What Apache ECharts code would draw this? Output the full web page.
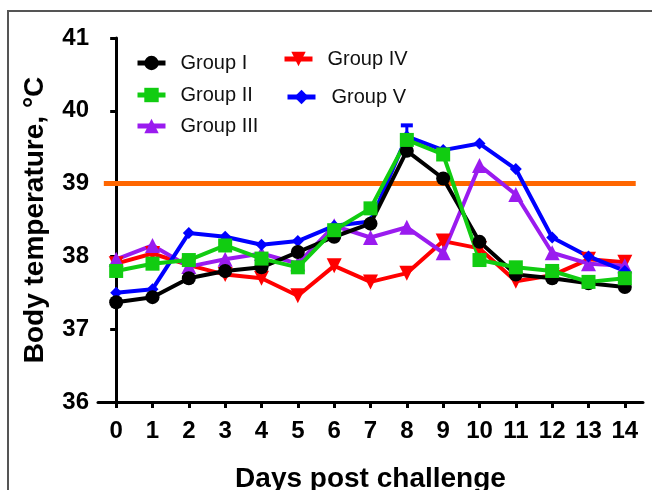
<!DOCTYPE html>
<html>
<head>
<meta charset="utf-8">
<script src="https://cdn.jsdelivr.net/npm/echarts@6/dist/echarts.min.js"></script>
<style>html,body{margin:0;padding:0;background:#fff;}#c{width:652px;height:490px;}</style>
</head>
<body>
<div id="c"></div>
<script>
var days = [0,1,2,3,4,5,6,7,8,9,10,11,12,13,14];
var groupI   = [37.37,37.44,37.70,37.80,37.85,38.06,38.27,38.45,39.45,39.07,38.20,37.75,37.70,37.63,37.58];
var groupII  = [37.80,37.90,37.95,38.15,37.97,37.85,38.36,38.66,39.60,39.40,37.95,37.85,37.80,37.65,37.70];
var groupIII = [37.96,38.15,37.86,37.96,38.04,37.90,38.42,38.26,38.40,38.05,39.25,38.85,38.05,37.90,37.87];
var groupIV  = [37.90,38.04,37.88,37.75,37.70,37.46,37.87,37.65,37.77,38.21,38.11,37.66,37.74,37.96,37.92];
var groupV   = [37.50,37.55,38.32,38.27,38.16,38.21,38.42,38.48,39.65,39.46,39.55,39.20,38.26,38.00,37.80];
var blueErrorBars = [[8, 39.65, 39.80]];
var thresholdX = [-0.34, 14.3];
var thresholdValue = 39;
var yTicks = [36,37,38,39,40,41];

function pairs(vals){ return days.map(function(d,i){ return [d, vals[i]]; }); }

var FONT = '"Liberation Sans", Arial, sans-serif';
var chart = echarts.init(document.getElementById('c'), null, {renderer:'canvas'});

function legendAt(name, left, top, gap){
  return {
    data:[name], left:left, top:top, orient:'horizontal', padding:0,
    itemWidth:28, itemHeight:18, selectedMode:false,
    lineStyle:{width:5},
    textStyle:{fontFamily:FONT, fontSize:20, color:'#111', padding:[0,0,0,gap]}
  };
}

function lineSeries(name, vals, color, symbol, size, rotate){
  return {
    name:name, type:'line', data:pairs(vals),
    symbol:symbol, symbolSize:size, symbolRotate:rotate||0,
    lineStyle:{color:color, width:4}, itemStyle:{color:color},
    emphasis:{disabled:true}, animation:false
  };
}

var option = {
  animation:false,
  graphic:[{type:'rect', shape:{x:8, y:11, width:700, height:600}, style:{fill:'none', stroke:'#555', lineWidth:2}}],
  legend:[
    legendAt('Group I', 135, 53, 10),
    legendAt('Group II', 135, 85, 10),
    legendAt('Group III', 135, 116, 10),
    legendAt('Group IV', 282, 49, 10),
    legendAt('Group V', 285, 87, 11)
  ],
  grid:{left:98, right:9, top:38, bottom:88, containLabel:false, outerBoundsMode:'none'},
  xAxis:{
    type:'value', min:-0.5, max:14.5,
    name:'Days post challenge', nameLocation:'middle', nameGap:63,
    nameTextStyle:{fontFamily:FONT, fontSize:28, fontWeight:'bold', color:'#000'},
    axisLine:{show:true, lineStyle:{color:'#000', width:3}},
    axisTick:{show:true, length:6, lineStyle:{color:'#000', width:3}, customValues:days},
    axisLabel:{fontFamily:FONT, fontSize:24, fontWeight:'bold', color:'#000', margin:17, customValues:days},
    splitLine:{show:false}
  },
  yAxis:{
    type:'value', min:36, max:41, interval:1,
    name:'Body temperature, °C', nameLocation:'middle', nameGap:49, nameRotate:90,
    nameTextStyle:{fontFamily:FONT, fontSize:28, fontWeight:'bold', color:'#000'},
    axisLine:{show:true, lineStyle:{color:'#000', width:3}},
    axisTick:{show:true, length:6, lineStyle:{color:'#000', width:3}, customValues:yTicks},
    axisLabel:{fontFamily:FONT, fontSize:24, fontWeight:'bold', color:'#000', margin:9, customValues:yTicks},
    splitLine:{show:false}
  },
  series:[
    {name:'threshold', type:'line', data:thresholdX.map(function(x){return [x, thresholdValue];}),
     symbol:'none', lineStyle:{color:'#FF6600', width:5}, emphasis:{disabled:true}, z:1},
    lineSeries('Group IV', groupIV, '#FF0000', 'triangle', 15, 180),
    lineSeries('Group III', groupIII, '#9A1BEF', 'triangle', 15, 0),
    {type:'custom', data:blueErrorBars, z:2,
     renderItem:function(params, api){
       var p0 = api.coord([api.value(0), api.value(1)]);
       var p1 = api.coord([api.value(0), api.value(2)]);
       return {type:'group', children:[
         {type:'line', shape:{x1:p0[0], y1:p0[1], x2:p1[0], y2:p1[1]}, style:{stroke:'#0000FF', lineWidth:3}},
         {type:'line', shape:{x1:p1[0]-6, y1:p1[1], x2:p1[0]+6, y2:p1[1]}, style:{stroke:'#0000FF', lineWidth:4}}
       ]};
     }},
    lineSeries('Group V', groupV, '#0000FF', 'diamond', 12, 0),
    lineSeries('Group I', groupI, '#000000', 'circle', 14, 0),
    lineSeries('Group II', groupII, '#11CC11', 'rect', 14, 0)
  ]
};
chart.setOption(option);
</script>
</body>
</html>
